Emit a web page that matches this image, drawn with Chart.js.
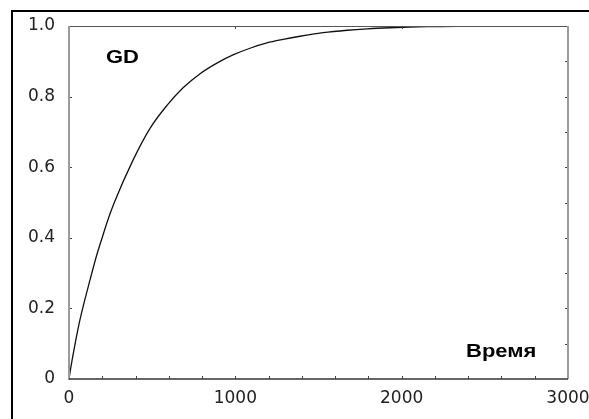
<!DOCTYPE html>
<html>
<head>
<meta charset="utf-8">
<script src="https://cdn.jsdelivr.net/npm/chart.js@4/dist/chart.umd.min.js"></script>
<style>
html,body{margin:0;padding:0;background:#fff;}
#wrap{width:589px;height:419px;position:relative;}
</style>
</head>
<body>
<div id="wrap"><canvas id="c" width="589" height="419"></canvas></div>
<script>
// Data
const times = [0, 10, 36, 66, 126, 166, 196, 226, 270, 385, 487, 589, 686, 788, 889, 986, 1088, 1190, 1287, 1389, 1527, 1672, 1792, 1930, 2153, 2400, 2622];
const gdValues = [0, 0.03, 0.098, 0.168, 0.28, 0.35, 0.395, 0.44, 0.497, 0.62, 0.71, 0.775, 0.825, 0.865, 0.895, 0.918, 0.937, 0.952, 0.962, 0.971, 0.981, 0.988, 0.992, 0.995, 0.998, 0.999, 0.9995];
const xTickValues = [0, 1000, 2000, 3000];
const yTickValues = [0, 0.2, 0.4, 0.6, 0.8, 1.0];
const xMinorStep = 200;
const yRightStep = 0.1;
const seriesLabel = 'GD';
const xAxisLabel = 'Время';

const points = times.map((t, i) => ({x: t, y: gdValues[i]}));
const FONT = '"DejaVu Sans", "Liberation Sans", Arial, sans-serif';
const LABEL_FONT = '"Liberation Sans", Arial, sans-serif';

const framePlugin = {
  id: 'frame',
  beforeDraw(chart) {
    const ctx = chart.ctx;
    ctx.save();
    ctx.fillStyle = '#fff';
    ctx.fillRect(0, 0, chart.width, chart.height);
    ctx.fillStyle = '#000';
    ctx.fillRect(11, 10, 2, chart.height - 10);
    ctx.fillRect(11, 10, chart.width - 11, 2);
    ctx.restore();
  },
  afterDatasetsDraw(chart) {
    const ctx = chart.ctx;
    const a = chart.chartArea;
    const xs = chart.scales.x, ys = chart.scales.y;
    ctx.save();
    ctx.strokeStyle = '#555';
    ctx.lineWidth = 1;
    ctx.beginPath(); ctx.moveTo(a.left, a.top + 0.5); ctx.lineTo(a.right, a.top + 0.5); ctx.stroke();
    ctx.strokeStyle = '#9a9a9a';
    ctx.lineWidth = 2;
    ctx.beginPath(); ctx.moveTo(a.right, a.top); ctx.lineTo(a.right, a.bottom); ctx.stroke();
    ctx.beginPath(); ctx.moveTo(a.left, a.top); ctx.lineTo(a.left, a.bottom + 1); ctx.stroke();
    ctx.strokeStyle = '#333';
    ctx.lineWidth = 1.5;
    ctx.beginPath(); ctx.moveTo(a.left, a.bottom); ctx.lineTo(a.right, a.bottom); ctx.stroke();

    ctx.lineWidth = 1;
    ctx.strokeStyle = '#444';
    for (let v = xMinorStep; v < xs.max; v += xMinorStep) {
      const px = Math.round(xs.getPixelForValue(v)) + 0.5;
      ctx.beginPath(); ctx.moveTo(px, a.bottom); ctx.lineTo(px, a.bottom - 3); ctx.stroke();
    }
    xTickValues.forEach(v => {
      if (v <= xs.min || v >= xs.max) return;
      const px = Math.round(xs.getPixelForValue(v)) + 0.5;
      ctx.beginPath(); ctx.moveTo(px, a.top); ctx.lineTo(px, a.top + 3); ctx.stroke();
    });
    yTickValues.forEach(v => {
      if (v <= ys.min || v >= ys.max) return;
      const py = Math.round(ys.getPixelForValue(v)) + 0.5;
      ctx.beginPath(); ctx.moveTo(a.left + 1, py); ctx.lineTo(a.left + 3, py); ctx.stroke();
    });
    for (let k = 1; k < 10; k++) {
      const v = k * yRightStep;
      const py = Math.round(ys.getPixelForValue(v)) + 0.5;
      ctx.beginPath(); ctx.moveTo(a.right - 1, py); ctx.lineTo(a.right - 3, py); ctx.stroke();
    }
    // text labels inside the plot (slightly widened, as in the reference)
    ctx.fillStyle = '#000';
    ctx.font = 'bold 18px ' + LABEL_FONT;
    ctx.textBaseline = 'alphabetic';
    ctx.textAlign = 'left';
    const drawWide = (txt, x, y) => {
      ctx.save();
      ctx.translate(x, y);
      ctx.scale(1.22, 1);
      ctx.fillText(txt, 0, 0);
      ctx.restore();
    };
    drawWide(seriesLabel, xs.getPixelForValue(222), ys.getPixelForValue(0.895));
    drawWide(xAxisLabel, xs.getPixelForValue(2387), ys.getPixelForValue(0.062));
    ctx.restore();
  }
};

new Chart(document.getElementById('c'), {
  type: 'scatter',
  data: {
    datasets: [{
      label: seriesLabel,
      data: points,
      showLine: true,
      borderColor: '#111',
      borderWidth: 1.3,
      pointRadius: 0,
      pointHoverRadius: 0,
      fill: false,
      cubicInterpolationMode: 'monotone'
    }]
  },
  options: {
    responsive: false,
    animation: false,
    devicePixelRatio: 1,
    layout: {padding: {left: 0, top: 26, right: 21, bottom: 0}},
    plugins: {legend: {display: false}, tooltip: {enabled: false}, title: {display: false}},
    scales: {
      x: {
        type: 'linear',
        min: 0, max: 3000,
        afterBuildTicks(axis) { axis.ticks = xTickValues.map(v => ({value: v})); },
        afterFit(axis) { axis.height = 40; axis.paddingLeft = 0; axis.paddingRight = 0; },
        grid: {display: false, drawTicks: false},
        border: {display: false},
        ticks: {
          color: '#222',
          font: {family: FONT, size: 17},
          padding: 9,
          maxRotation: 0,
          autoSkip: false,
          callback: v => String(v)
        }
      },
      y: {
        type: 'linear',
        min: 0, max: 1,
        afterBuildTicks(axis) { axis.ticks = yTickValues.map(v => ({value: v})); },
        afterFit(axis) { axis.width = 69; axis.paddingTop = 0; axis.paddingBottom = 0; },
        grid: {display: false, drawTicks: false},
        border: {display: false},
        ticks: {
          color: '#222',
          font: {family: FONT, size: 17},
          padding: 14,
          autoSkip: false,
          callback: v => (v === 0 ? '0' : Number(v).toFixed(1))
        }
      }
    }
  },
  plugins: [framePlugin]
});
</script>
</body>
</html>
